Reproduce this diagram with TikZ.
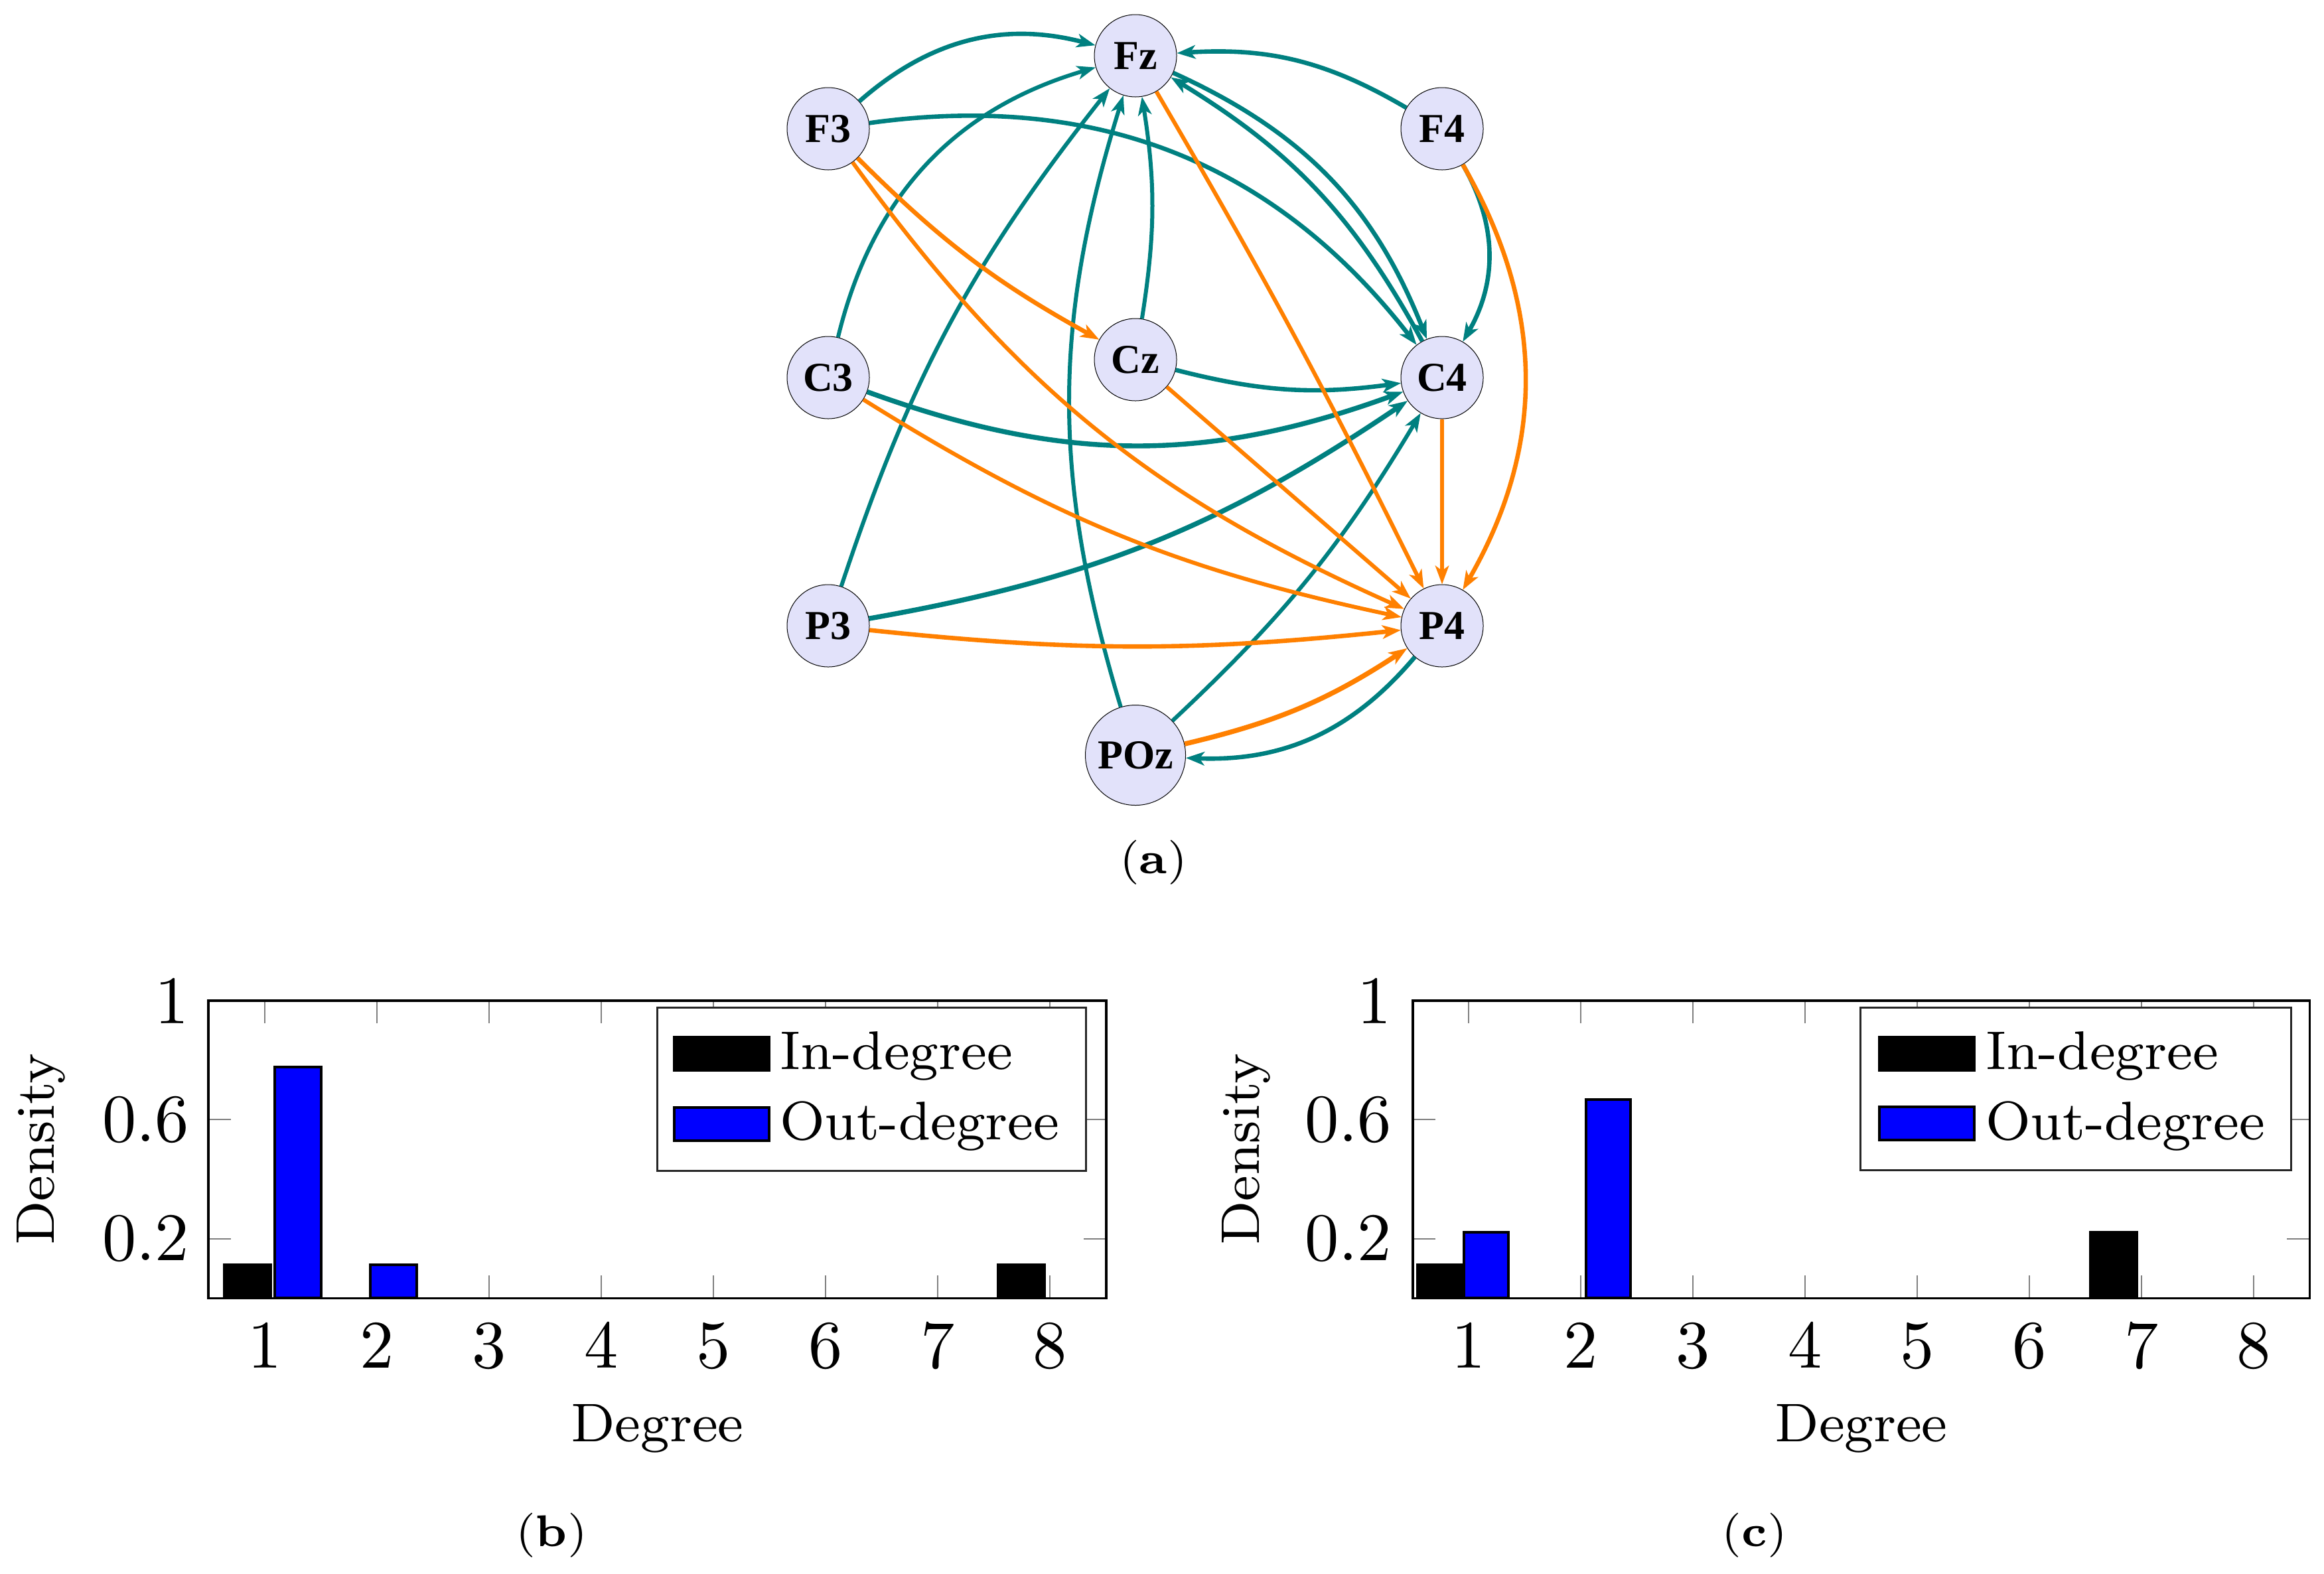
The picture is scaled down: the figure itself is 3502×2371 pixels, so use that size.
\documentclass[tikz,border=0pt]{standalone}
\usepackage{fontspec}
\newfontfamily\nodefont{Liberation Serif}
\usetikzlibrary{arrows.meta}
\definecolor{nodefill}{RGB}{226,226,250}
\definecolor{tealc}{RGB}{0,128,128}
\definecolor{orangec}{RGB}{255,128,0}
\definecolor{tickgray}{RGB}{128,128,128}
\begin{document}
\begin{tikzpicture}[x=0.1pt,y=0.1pt,
  vtx/.style={circle, draw=black, line width=0.1pt, fill=nodefill, minimum size=12.4pt, inner sep=0pt,
    font=\nodefont\bfseries\fontsize{6.2}{7}\selectfont},
  arrtip/.style={-{Stealth[length=2.8pt,width=2.05pt,inset=0.75pt]}},
  te/.style={draw=tealc, arrtip},
  oe/.style={draw=orangec, arrtip},
  ewa/.style={line width=0.6pt},
  ewb/.style={line width=0.66pt},
  ewc/.style={line width=0.74pt},
  txtn/.style={inner sep=0pt},
  ticklab/.style={txtn, font=\fontsize{10.25}{12}\selectfont},
  labtext/.style={txtn, font=\fontsize{8.2}{10}\selectfont},
  captext/.style={txtn, anchor=base, font=\fontsize{6.7}{8}\selectfont},
  tickc/.style={draw=tickgray, line width=0.2pt},
  axframe/.style={draw=black, line width=0.35pt},
  legbox/.style={draw=black!85, fill=white, line width=0.3pt},
  barin/.style={fill=black, draw=black, line width=0.4pt},
  barout/.style={fill=blue, draw=black, line width=0.4pt}
]
\path[use as bounding box] (0,0) rectangle (3502,-2371);

% ---------------- graph (a) ----------------
\node[vtx] (Fz) at (1711,-84) {Fz};
\node[vtx] (F3) at (1248,-194) {F3};
\node[vtx] (F4) at (2173,-194) {F4};
\node[vtx] (Cz) at (1711,-542) {Cz};
\node[vtx] (C3) at (1248,-569) {C3};
\node[vtx] (C4) at (2173,-569) {C4};
\node[vtx] (P3) at (1248,-943) {P3};
\node[vtx] (P4) at (2173,-943) {P4};
\node[vtx, minimum size=15.1pt] (POz) at (1711,-1138) {POz};

% teal edges
\draw[te, ewb] (F3) to[bend left=28] (Fz);
\draw[te, ewa] (C3) to[bend left=30] (Fz);
\draw[te, ewa] (P3) to[bend left=10] (Fz);
\draw[te, ewa] (POz) to[bend left=17] (Fz);
\draw[te, ewa] (Cz) to[bend right=9] (Fz);
\draw[te, ewb] (F4) to[bend right=17] (Fz);
\draw[te, ewb] (Fz) to[bend left=22] (C4);
\draw[te, ewb] (C4) to[bend right=15] (Fz);
\draw[te, ewb] (F3) to[bend left=30] (C4);
\draw[te, ewb] (F4) to[bend left=30] (C4);
\draw[te, ewb] (Cz) to[bend right=11] (C4);
\draw[te, ewc] (C3) to[bend right=20] (C4);
\draw[te, ewc] (P3) to[bend right=12] (C4);
\draw[te, ewa] (POz) to[bend right=8] (C4);
\draw[te, ewb] (P4) to[bend left=26] (POz);

% orange edges
\draw[oe, ewb] (F3) to[bend right=8] (Cz);
\draw[oe, ewa] (F3) to[bend right=15] (P4);
\draw[oe, ewa] (Fz) to[bend left=2] (P4);
\draw[oe, ewb] (F4) to[bend left=30] (P4);
\draw[oe, ewa] (C3) to[bend right=10] (P4);
\draw[oe, ewa] (Cz) -- (P4);
\draw[oe, ewb] (C4) -- (P4);
\draw[oe, ewb] (P3) to[bend right=6] (P4);
\draw[oe, ewc] (POz) to[bend right=10] (P4);

\node[captext] (capa) at (1738,-1316) {(\textbf{a})};

% ---------------- chart (b) ----------------
\foreach \x in {398.7,567.8,736.9,906.0,1075.1,1244.2,1413.3,1582.4} {
  \draw[tickc] (\x,-1507.9) -- ++(0,-34);
  \draw[tickc] (\x,-1956.2) -- ++(0,34);
}
\foreach \y in {-1866.6,-1687.2} {
  \draw[tickc] (313.9,\y) -- ++(34,0);
  \draw[tickc] (1667,\y) -- ++(-34,0);
}
\draw[barin]  (337.8,-1956.2) rectangle (407.8,-1906.4);
\draw[barout] (414,-1956.2) rectangle (484,-1607.5);
\draw[barout] (557.5,-1956.2) rectangle (627.5,-1906.4);
\draw[barin]  (1504,-1956.2) rectangle (1574,-1906.4);
\draw[axframe] (313.9,-1507.9) rectangle (1667,-1956.2);

\draw[legbox] (990,-1518.7) rectangle (1636,-1764.3);
\draw[barin]  (1016,-1563) rectangle (1159,-1613);
\draw[barout] (1016,-1669) rectangle (1159,-1719);
\node[labtext, anchor=base west] (bl1) at (1173,-1611.6) {In-degree};
\node[labtext, anchor=base west] (bl2) at (1173,-1717) {Out-degree};

\node[ticklab, anchor=east] (by1) at (287,-1507.9) {1};
\node[ticklab, anchor=east] (by2) at (287,-1687.2) {0.6};
\node[ticklab, anchor=east] (by3) at (287,-1866.6) {0.2};
\foreach \x [count=\i] in {398.7,567.8,736.9,906.0,1075.1,1244.2,1413.3,1582.4} {
  \node[ticklab, anchor=base] (bx\i) at (\x,-2061) {\i};
}
\node[labtext, rotate=90] (bylab) at (62,-1732) {Density};
\node[labtext, anchor=base] (bxlab) at (990.5,-2172.6) {Degree};
\node[captext] (capb) at (831,-2330) {(\textbf{b})};

% ---------------- chart (c) ----------------
\foreach \x in {2213.4,2382.3,2551.2,2720.1,2889.0,3057.9,3226.8,3395.7} {
  \draw[tickc] (\x,-1507.9) -- ++(0,-34);
  \draw[tickc] (\x,-1956.2) -- ++(0,34);
}
\foreach \y in {-1866.6,-1687.2} {
  \draw[tickc] (2128.9,\y) -- ++(34,0);
  \draw[tickc] (3480.2,\y) -- ++(-34,0);
}
\draw[barin]  (2135.6,-1956.2) rectangle (2205.6,-1906.4);
\draw[barout] (2206,-1956.2) rectangle (2273,-1856.6);
\draw[barout] (2390,-1956.2) rectangle (2457,-1657.3);
\draw[barin]  (3150,-1956.2) rectangle (3220,-1856.6);
\draw[axframe] (2128.9,-1507.9) rectangle (3480.2,-1956.2);

\draw[legbox] (2803.6,-1518.7) rectangle (3452.3,-1763.5);
\draw[barin]  (2832,-1563) rectangle (2975,-1613);
\draw[barout] (2832,-1668) rectangle (2975,-1718);
\node[labtext, anchor=base west] (cl1) at (2990,-1611.6) {In-degree};
\node[labtext, anchor=base west] (cl2) at (2990,-1717) {Out-degree};

\node[ticklab, anchor=east] (cy1) at (2099,-1507.9) {1};
\node[ticklab, anchor=east] (cy2) at (2099,-1687.2) {0.6};
\node[ticklab, anchor=east] (cy3) at (2099,-1866.6) {0.2};
\foreach \x [count=\i] in {2213.4,2382.3,2551.2,2720.1,2889.0,3057.9,3226.8,3395.7} {
  \node[ticklab, anchor=base] (cx\i) at (\x,-2061) {\i};
}
\node[labtext, rotate=90] (cylab) at (1878,-1732) {Density};
\node[labtext, anchor=base] (cxlab) at (2804.5,-2172.6) {Degree};
\node[captext] (capc) at (2644,-2330) {(\textbf{c})};
\end{tikzpicture}
\end{document}
